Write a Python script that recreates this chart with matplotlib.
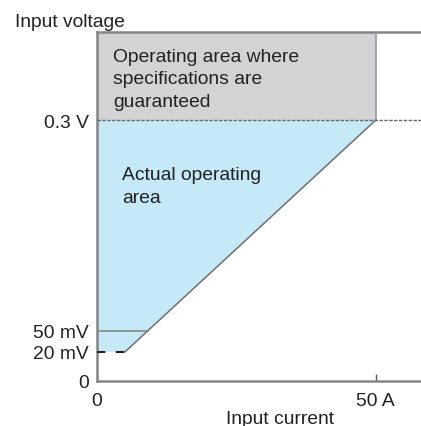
import numpy as np
import matplotlib
matplotlib.use("Agg")
import matplotlib.pyplot as plt
from matplotlib.patches import Polygon, Rectangle

plt.rcParams['font.family'] = ['Liberation Sans', 'DejaVu Sans']

# chart values (current in A, voltage in mV)
y_ticks = [0, 20, 50, 300]
y_labels = ['0', '20 mV', '50 mV', '0.3 V']
x_ticks = [0, 50]
x_labels = ['0', '50 A']
i_knee = 5          # current where the actual area starts rising
i_max = 50          # max guaranteed current
v_min = 20          # lower voltage of actual area
v_spec = 300        # guaranteed voltage
v_mid = 50
v_top = 400
i_right = 58.1

spec_lines = ['Operating area where', 'specifications are', 'guaranteed']
actual_lines = ['Actual operating', 'area']

# schematic (non-linear) voltage axis
sch_v = [0, 20, 50, 300, 400]
sch_p = [0, 29, 50, 261, 349]
def fwd(v):
    return np.interp(v, sch_v, sch_p)
def inv(p):
    return np.interp(p, sch_p, sch_v)

W, H = 421, 427
FS = 13.9
TXT = '#222222'

fig = plt.figure(figsize=(W / 100, H / 100), dpi=100)
ax = fig.add_axes([97/W, 1 - 382/H, 324/W, 349/H])
ax.set_yscale('function', functions=(fwd, inv))
ax.set_xlim(0, i_right)
ax.set_ylim(0, v_top)

blue = '#c6e9f8'
grey_fill = '#d3d3d5'
axis_col = '#858585'

# guaranteed area box
ax.add_patch(Rectangle((0, v_spec), i_max, v_top - v_spec, facecolor=grey_fill,
                       edgecolor='none', zorder=1))
ax.plot([i_max, i_max], [v_spec, v_top], color='#9a9a9a', lw=1.2, zorder=3)

# actual operating area
ax.add_patch(Polygon([(0, v_min), (i_knee, v_min), (i_max, v_spec), (0, v_spec)],
                     closed=True, facecolor=blue, edgecolor='none', zorder=1))
ax.plot([i_knee, i_max], [v_min, v_spec], color='#6e6e6e', lw=1.1, zorder=3)

# 50 mV line ends at the diagonal
frac = (fwd(v_mid) - fwd(v_min)) / (fwd(v_spec) - fwd(v_min))
i_mid = i_knee + frac * (i_max - i_knee)
ax.plot([0, i_mid], [v_mid, v_mid], color='#808080', lw=1.1, zorder=3)

ax.plot([0, i_knee], [v_min, v_min], color='#222222', lw=1.5,
        dashes=(4, 5), zorder=3)
ax.plot([0, i_right], [v_spec, v_spec], color='#6a6a6a', lw=1,
        dashes=(2.5, 1), zorder=3)

for s in ['left', 'bottom', 'top']:
    ax.spines[s].set_color(axis_col)
    ax.spines[s].set_linewidth(1.8)
ax.spines['right'].set_visible(False)

ax.set_yticks(y_ticks)
ax.set_yticklabels(y_labels)
ax.set_xticks(x_ticks)
ax.set_xticklabels(x_labels)
ax.yaxis.minorticks_off()
ax.tick_params(axis='y', length=0, pad=6, labelsize=FS, labelcolor=TXT)
ax.tick_params(axis='x', direction='in', length=5, width=1, color='#555555',
               pad=8, labelsize=FS, labelcolor=TXT)
ax.xaxis.get_major_ticks()[0].tick1line.set_visible(False)

# text in the areas, one line at a time (pixel baselines)
for k, line in enumerate(spec_lines):
    fig.text(113/W, 1 - (61.7 + 22.5 * k)/H, line, ha='left', va='baseline',
             fontsize=FS, color=TXT, zorder=4)
for k, line in enumerate(actual_lines):
    fig.text(122/W, 1 - (180 + 22.7 * k)/H, line, ha='left', va='baseline',
             fontsize=FS, color=TXT, zorder=4)

fig.text(15/W, 1 - 26.7/H, 'Input voltage', ha='left', va='baseline',
         fontsize=FS, color=TXT)
fig.text(280/W, 1 - 424/H, 'Input current', ha='center', va='baseline',
         fontsize=FS, color=TXT)

fig.savefig('out.png', dpi=100)
